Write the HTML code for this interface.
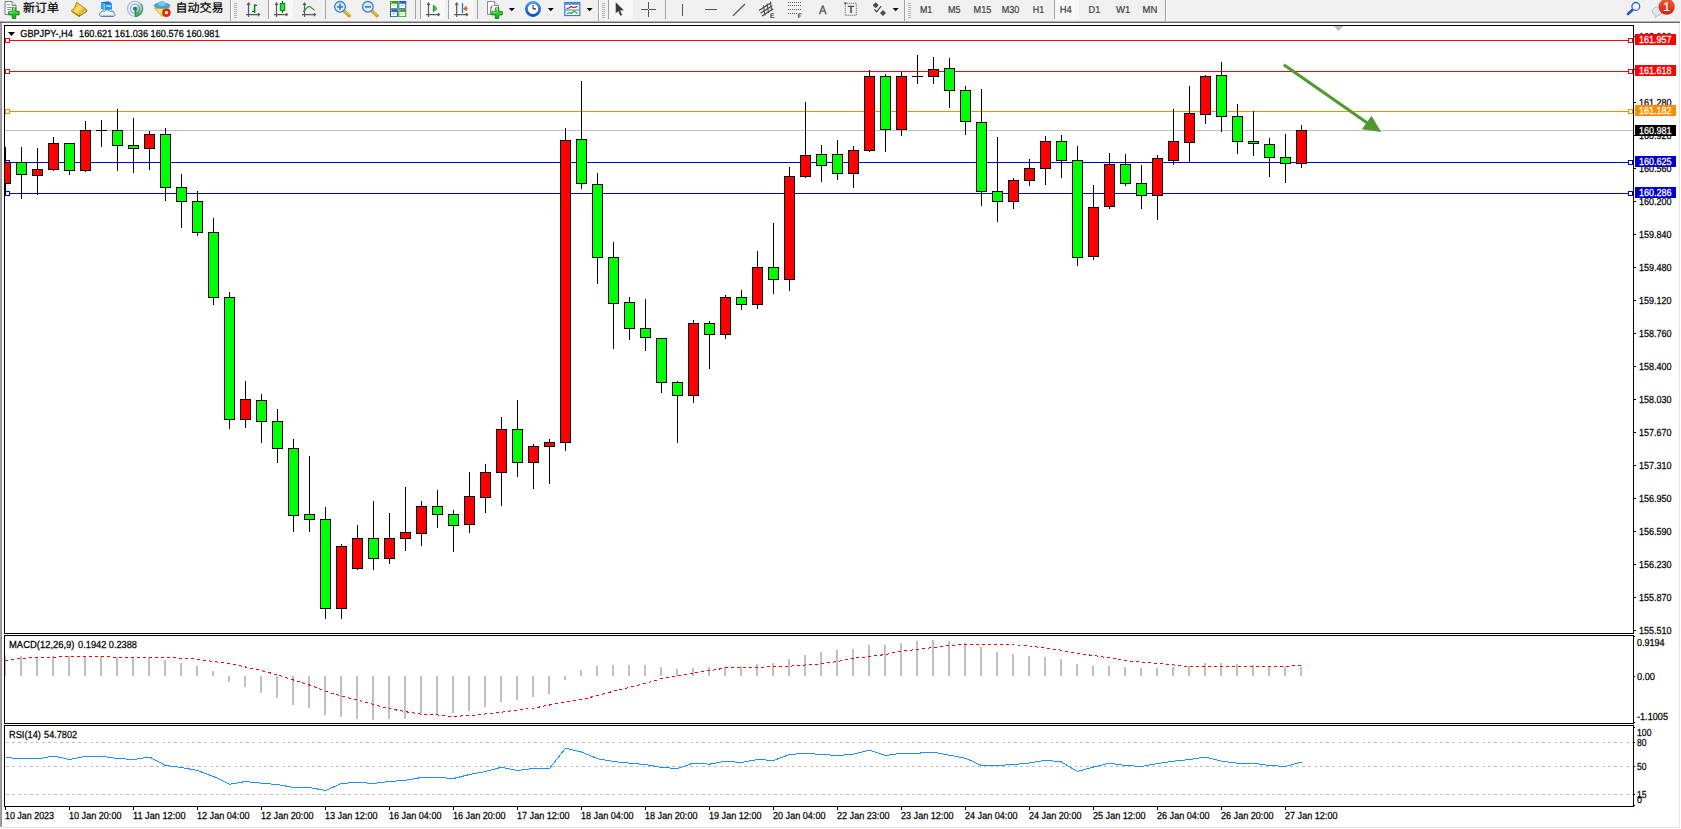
<!DOCTYPE html>
<html><head><meta charset="utf-8"><title>GBPJPY-,H4</title>
<style>html,body{margin:0;padding:0;background:#fff;}body{width:1681px;height:829px;overflow:hidden;position:relative;font-family:"Liberation Sans","Noto Sans CJK SC",sans-serif;}</style>
</head><body>
<svg width="1681" height="829" viewBox="0 0 1681 829" style="position:absolute;left:0;top:0;text-rendering:geometricPrecision" font-family="'Liberation Sans', sans-serif">
<g shape-rendering="crispEdges">
<rect x="0" y="0" width="1681" height="829" fill="#ffffff" />
<rect x="0" y="0" width="1681" height="20" fill="#f0f0f0" />
<rect x="0" y="20" width="1681" height="1" fill="#f5f5f5" />
<rect x="0" y="21" width="1680" height="1" fill="#b2b2b2" />
<rect x="0" y="22" width="1680" height="1" fill="#686868" />
<rect x="0" y="23" width="2" height="804" fill="#a0a0a0" />
<rect x="1" y="23" width="1" height="804" fill="#929292" />
<rect x="1679" y="23" width="1" height="805" fill="#e3e3e3" />
<rect x="2" y="827" width="1678" height="1" fill="#e3e3e3" />
<rect x="5" y="40" width="1628" height="1" fill="#ff0000" />
<rect x="5" y="71" width="1628" height="1" fill="#ff0000" />
<rect x="5" y="111" width="1628" height="1" fill="#ff8c00" />
<rect x="5" y="130" width="1628" height="1" fill="#c0c0c0" />
<rect x="5" y="162" width="1628" height="1" fill="#0000cd" />
<rect x="5" y="193" width="1628" height="1" fill="#0000cd" />
<rect x="5" y="38" width="5" height="5" fill="#ff0000" />
<rect x="6" y="39" width="3" height="3" fill="#fff" />
<rect x="1628" y="38" width="5" height="5" fill="#ff0000" />
<rect x="1629" y="39" width="3" height="3" fill="#fff" />
<rect x="5" y="69" width="5" height="5" fill="#ff0000" />
<rect x="6" y="70" width="3" height="3" fill="#fff" />
<rect x="1628" y="69" width="5" height="5" fill="#ff0000" />
<rect x="1629" y="70" width="3" height="3" fill="#fff" />
<rect x="5" y="109" width="5" height="5" fill="#ff8c00" />
<rect x="6" y="110" width="3" height="3" fill="#fff" />
<rect x="1628" y="109" width="5" height="5" fill="#ff8c00" />
<rect x="1629" y="110" width="3" height="3" fill="#fff" />
<rect x="5" y="160" width="5" height="5" fill="#0000cd" />
<rect x="6" y="161" width="3" height="3" fill="#fff" />
<rect x="1628" y="160" width="5" height="5" fill="#0000cd" />
<rect x="1629" y="161" width="3" height="3" fill="#fff" />
<rect x="5" y="191" width="5" height="5" fill="#0000cd" />
<rect x="6" y="192" width="3" height="3" fill="#fff" />
<rect x="1628" y="191" width="5" height="5" fill="#0000cd" />
<rect x="1629" y="192" width="3" height="3" fill="#fff" />
<g clip-path="url(#cp)">
<rect x="5" y="147" width="1" height="48" fill="#000" />
<rect x="0" y="162" width="11" height="22" fill="#000" />
<rect x="1" y="163" width="9" height="20" fill="#ff0000" />
<rect x="21" y="147" width="1" height="52" fill="#000" />
<rect x="16" y="162" width="11" height="13" fill="#000" />
<rect x="17" y="163" width="9" height="11" fill="#00ff00" />
<rect x="37" y="148" width="1" height="47" fill="#000" />
<rect x="32" y="169" width="11" height="7" fill="#000" />
<rect x="33" y="170" width="9" height="5" fill="#ff0000" />
<rect x="53" y="137" width="1" height="34" fill="#000" />
<rect x="48" y="143" width="11" height="27" fill="#000" />
<rect x="49" y="144" width="9" height="25" fill="#ff0000" />
<rect x="69" y="143" width="1" height="32" fill="#000" />
<rect x="64" y="143" width="11" height="28" fill="#000" />
<rect x="65" y="144" width="9" height="26" fill="#00ff00" />
<rect x="85" y="121" width="1" height="51" fill="#000" />
<rect x="80" y="130" width="11" height="41" fill="#000" />
<rect x="81" y="131" width="9" height="39" fill="#ff0000" />
<rect x="101" y="120" width="1" height="27" fill="#000" />
<rect x="96" y="130" width="11" height="1" fill="#000" />
<rect x="117" y="109" width="1" height="62" fill="#000" />
<rect x="112" y="130" width="11" height="16" fill="#000" />
<rect x="113" y="131" width="9" height="14" fill="#00ff00" />
<rect x="133" y="118" width="1" height="55" fill="#000" />
<rect x="128" y="145" width="11" height="4" fill="#000" />
<rect x="129" y="146" width="9" height="2" fill="#00ff00" />
<rect x="149" y="131" width="1" height="39" fill="#000" />
<rect x="144" y="134" width="11" height="15" fill="#000" />
<rect x="145" y="135" width="9" height="13" fill="#ff0000" />
<rect x="165" y="128" width="1" height="73" fill="#000" />
<rect x="160" y="134" width="11" height="54" fill="#000" />
<rect x="161" y="135" width="9" height="52" fill="#00ff00" />
<rect x="181" y="174" width="1" height="54" fill="#000" />
<rect x="176" y="187" width="11" height="15" fill="#000" />
<rect x="177" y="188" width="9" height="13" fill="#00ff00" />
<rect x="197" y="191" width="1" height="45" fill="#000" />
<rect x="192" y="201" width="11" height="32" fill="#000" />
<rect x="193" y="202" width="9" height="30" fill="#00ff00" />
<rect x="213" y="218" width="1" height="87" fill="#000" />
<rect x="208" y="232" width="11" height="66" fill="#000" />
<rect x="209" y="233" width="9" height="64" fill="#00ff00" />
<rect x="229" y="292" width="1" height="137" fill="#000" />
<rect x="224" y="297" width="11" height="123" fill="#000" />
<rect x="225" y="298" width="9" height="121" fill="#00ff00" />
<rect x="245" y="381" width="1" height="47" fill="#000" />
<rect x="240" y="399" width="11" height="21" fill="#000" />
<rect x="241" y="400" width="9" height="19" fill="#ff0000" />
<rect x="261" y="394" width="1" height="49" fill="#000" />
<rect x="256" y="400" width="11" height="22" fill="#000" />
<rect x="257" y="401" width="9" height="20" fill="#00ff00" />
<rect x="277" y="409" width="1" height="54" fill="#000" />
<rect x="272" y="421" width="11" height="28" fill="#000" />
<rect x="273" y="422" width="9" height="26" fill="#00ff00" />
<rect x="293" y="439" width="1" height="93" fill="#000" />
<rect x="288" y="448" width="11" height="68" fill="#000" />
<rect x="289" y="449" width="9" height="66" fill="#00ff00" />
<rect x="309" y="456" width="1" height="76" fill="#000" />
<rect x="304" y="514" width="11" height="6" fill="#000" />
<rect x="305" y="515" width="9" height="4" fill="#00ff00" />
<rect x="325" y="507" width="1" height="112" fill="#000" />
<rect x="320" y="519" width="11" height="90" fill="#000" />
<rect x="321" y="520" width="9" height="88" fill="#00ff00" />
<rect x="341" y="544" width="1" height="75" fill="#000" />
<rect x="336" y="546" width="11" height="63" fill="#000" />
<rect x="337" y="547" width="9" height="61" fill="#ff0000" />
<rect x="357" y="525" width="1" height="45" fill="#000" />
<rect x="352" y="538" width="11" height="31" fill="#000" />
<rect x="353" y="539" width="9" height="29" fill="#ff0000" />
<rect x="373" y="501" width="1" height="69" fill="#000" />
<rect x="368" y="538" width="11" height="21" fill="#000" />
<rect x="369" y="539" width="9" height="19" fill="#00ff00" />
<rect x="389" y="513" width="1" height="51" fill="#000" />
<rect x="384" y="538" width="11" height="21" fill="#000" />
<rect x="385" y="539" width="9" height="19" fill="#ff0000" />
<rect x="405" y="487" width="1" height="64" fill="#000" />
<rect x="400" y="532" width="11" height="7" fill="#000" />
<rect x="401" y="533" width="9" height="5" fill="#ff0000" />
<rect x="421" y="501" width="1" height="45" fill="#000" />
<rect x="416" y="506" width="11" height="28" fill="#000" />
<rect x="417" y="507" width="9" height="26" fill="#ff0000" />
<rect x="437" y="490" width="1" height="38" fill="#000" />
<rect x="432" y="506" width="11" height="9" fill="#000" />
<rect x="433" y="507" width="9" height="7" fill="#00ff00" />
<rect x="453" y="510" width="1" height="42" fill="#000" />
<rect x="448" y="514" width="11" height="12" fill="#000" />
<rect x="449" y="515" width="9" height="10" fill="#00ff00" />
<rect x="469" y="472" width="1" height="61" fill="#000" />
<rect x="464" y="496" width="11" height="29" fill="#000" />
<rect x="465" y="497" width="9" height="27" fill="#ff0000" />
<rect x="485" y="464" width="1" height="49" fill="#000" />
<rect x="480" y="472" width="11" height="26" fill="#000" />
<rect x="481" y="473" width="9" height="24" fill="#ff0000" />
<rect x="501" y="417" width="1" height="89" fill="#000" />
<rect x="496" y="429" width="11" height="44" fill="#000" />
<rect x="497" y="430" width="9" height="42" fill="#ff0000" />
<rect x="517" y="400" width="1" height="77" fill="#000" />
<rect x="512" y="429" width="11" height="34" fill="#000" />
<rect x="513" y="430" width="9" height="32" fill="#00ff00" />
<rect x="533" y="444" width="1" height="45" fill="#000" />
<rect x="528" y="446" width="11" height="17" fill="#000" />
<rect x="529" y="447" width="9" height="15" fill="#ff0000" />
<rect x="549" y="439" width="1" height="45" fill="#000" />
<rect x="544" y="442" width="11" height="5" fill="#000" />
<rect x="545" y="443" width="9" height="3" fill="#ff0000" />
<rect x="565" y="128" width="1" height="323" fill="#000" />
<rect x="560" y="140" width="11" height="303" fill="#000" />
<rect x="561" y="141" width="9" height="301" fill="#ff0000" />
<rect x="581" y="81" width="1" height="108" fill="#000" />
<rect x="576" y="139" width="11" height="45" fill="#000" />
<rect x="577" y="140" width="9" height="43" fill="#00ff00" />
<rect x="597" y="173" width="1" height="111" fill="#000" />
<rect x="592" y="184" width="11" height="74" fill="#000" />
<rect x="593" y="185" width="9" height="72" fill="#00ff00" />
<rect x="613" y="242" width="1" height="107" fill="#000" />
<rect x="608" y="257" width="11" height="47" fill="#000" />
<rect x="609" y="258" width="9" height="45" fill="#00ff00" />
<rect x="629" y="297" width="1" height="43" fill="#000" />
<rect x="624" y="302" width="11" height="27" fill="#000" />
<rect x="625" y="303" width="9" height="25" fill="#00ff00" />
<rect x="645" y="299" width="1" height="52" fill="#000" />
<rect x="640" y="328" width="11" height="10" fill="#000" />
<rect x="641" y="329" width="9" height="8" fill="#00ff00" />
<rect x="661" y="338" width="1" height="55" fill="#000" />
<rect x="656" y="338" width="11" height="45" fill="#000" />
<rect x="657" y="339" width="9" height="43" fill="#00ff00" />
<rect x="677" y="381" width="1" height="62" fill="#000" />
<rect x="672" y="382" width="11" height="14" fill="#000" />
<rect x="673" y="383" width="9" height="12" fill="#00ff00" />
<rect x="693" y="320" width="1" height="83" fill="#000" />
<rect x="688" y="323" width="11" height="73" fill="#000" />
<rect x="689" y="324" width="9" height="71" fill="#ff0000" />
<rect x="709" y="321" width="1" height="48" fill="#000" />
<rect x="704" y="323" width="11" height="12" fill="#000" />
<rect x="705" y="324" width="9" height="10" fill="#00ff00" />
<rect x="725" y="295" width="1" height="44" fill="#000" />
<rect x="720" y="297" width="11" height="38" fill="#000" />
<rect x="721" y="298" width="9" height="36" fill="#ff0000" />
<rect x="741" y="290" width="1" height="20" fill="#000" />
<rect x="736" y="297" width="11" height="8" fill="#000" />
<rect x="737" y="298" width="9" height="6" fill="#00ff00" />
<rect x="757" y="251" width="1" height="58" fill="#000" />
<rect x="752" y="267" width="11" height="38" fill="#000" />
<rect x="753" y="268" width="9" height="36" fill="#ff0000" />
<rect x="773" y="223" width="1" height="71" fill="#000" />
<rect x="768" y="267" width="11" height="13" fill="#000" />
<rect x="769" y="268" width="9" height="11" fill="#00ff00" />
<rect x="789" y="167" width="1" height="124" fill="#000" />
<rect x="784" y="176" width="11" height="104" fill="#000" />
<rect x="785" y="177" width="9" height="102" fill="#ff0000" />
<rect x="805" y="102" width="1" height="76" fill="#000" />
<rect x="800" y="155" width="11" height="22" fill="#000" />
<rect x="801" y="156" width="9" height="20" fill="#ff0000" />
<rect x="821" y="145" width="1" height="37" fill="#000" />
<rect x="816" y="154" width="11" height="12" fill="#000" />
<rect x="817" y="155" width="9" height="10" fill="#00ff00" />
<rect x="837" y="140" width="1" height="40" fill="#000" />
<rect x="832" y="154" width="11" height="20" fill="#000" />
<rect x="833" y="155" width="9" height="18" fill="#00ff00" />
<rect x="853" y="146" width="1" height="42" fill="#000" />
<rect x="848" y="150" width="11" height="24" fill="#000" />
<rect x="849" y="151" width="9" height="22" fill="#ff0000" />
<rect x="869" y="70" width="1" height="82" fill="#000" />
<rect x="864" y="76" width="11" height="75" fill="#000" />
<rect x="865" y="77" width="9" height="73" fill="#ff0000" />
<rect x="885" y="74" width="1" height="78" fill="#000" />
<rect x="880" y="76" width="11" height="54" fill="#000" />
<rect x="881" y="77" width="9" height="52" fill="#00ff00" />
<rect x="901" y="72" width="1" height="64" fill="#000" />
<rect x="896" y="76" width="11" height="54" fill="#000" />
<rect x="897" y="77" width="9" height="52" fill="#ff0000" />
<rect x="917" y="55" width="1" height="29" fill="#000" />
<rect x="912" y="76" width="11" height="1" fill="#000" />
<rect x="933" y="57" width="1" height="27" fill="#000" />
<rect x="928" y="69" width="11" height="8" fill="#000" />
<rect x="929" y="70" width="9" height="6" fill="#ff0000" />
<rect x="949" y="58" width="1" height="50" fill="#000" />
<rect x="944" y="68" width="11" height="23" fill="#000" />
<rect x="945" y="69" width="9" height="21" fill="#00ff00" />
<rect x="965" y="86" width="1" height="49" fill="#000" />
<rect x="960" y="90" width="11" height="32" fill="#000" />
<rect x="961" y="91" width="9" height="30" fill="#00ff00" />
<rect x="981" y="89" width="1" height="117" fill="#000" />
<rect x="976" y="122" width="11" height="70" fill="#000" />
<rect x="977" y="123" width="9" height="68" fill="#00ff00" />
<rect x="997" y="137" width="1" height="85" fill="#000" />
<rect x="992" y="191" width="11" height="11" fill="#000" />
<rect x="993" y="192" width="9" height="9" fill="#00ff00" />
<rect x="1013" y="178" width="1" height="31" fill="#000" />
<rect x="1008" y="180" width="11" height="22" fill="#000" />
<rect x="1009" y="181" width="9" height="20" fill="#ff0000" />
<rect x="1029" y="159" width="1" height="27" fill="#000" />
<rect x="1024" y="168" width="11" height="13" fill="#000" />
<rect x="1025" y="169" width="9" height="11" fill="#ff0000" />
<rect x="1045" y="136" width="1" height="49" fill="#000" />
<rect x="1040" y="141" width="11" height="28" fill="#000" />
<rect x="1041" y="142" width="9" height="26" fill="#ff0000" />
<rect x="1061" y="135" width="1" height="43" fill="#000" />
<rect x="1056" y="141" width="11" height="20" fill="#000" />
<rect x="1057" y="142" width="9" height="18" fill="#00ff00" />
<rect x="1077" y="146" width="1" height="120" fill="#000" />
<rect x="1072" y="160" width="11" height="98" fill="#000" />
<rect x="1073" y="161" width="9" height="96" fill="#00ff00" />
<rect x="1093" y="185" width="1" height="75" fill="#000" />
<rect x="1088" y="207" width="11" height="50" fill="#000" />
<rect x="1089" y="208" width="9" height="48" fill="#ff0000" />
<rect x="1109" y="153" width="1" height="56" fill="#000" />
<rect x="1104" y="164" width="11" height="43" fill="#000" />
<rect x="1105" y="165" width="9" height="41" fill="#ff0000" />
<rect x="1125" y="154" width="1" height="32" fill="#000" />
<rect x="1120" y="164" width="11" height="20" fill="#000" />
<rect x="1121" y="165" width="9" height="18" fill="#00ff00" />
<rect x="1141" y="165" width="1" height="44" fill="#000" />
<rect x="1136" y="183" width="11" height="13" fill="#000" />
<rect x="1137" y="184" width="9" height="11" fill="#00ff00" />
<rect x="1157" y="155" width="1" height="65" fill="#000" />
<rect x="1152" y="158" width="11" height="38" fill="#000" />
<rect x="1153" y="159" width="9" height="36" fill="#ff0000" />
<rect x="1173" y="109" width="1" height="56" fill="#000" />
<rect x="1168" y="141" width="11" height="20" fill="#000" />
<rect x="1169" y="142" width="9" height="18" fill="#ff0000" />
<rect x="1189" y="86" width="1" height="77" fill="#000" />
<rect x="1184" y="113" width="11" height="30" fill="#000" />
<rect x="1185" y="114" width="9" height="28" fill="#ff0000" />
<rect x="1205" y="75" width="1" height="49" fill="#000" />
<rect x="1200" y="76" width="11" height="39" fill="#000" />
<rect x="1201" y="77" width="9" height="37" fill="#ff0000" />
<rect x="1221" y="62" width="1" height="70" fill="#000" />
<rect x="1216" y="75" width="11" height="42" fill="#000" />
<rect x="1217" y="76" width="9" height="40" fill="#00ff00" />
<rect x="1237" y="104" width="1" height="50" fill="#000" />
<rect x="1232" y="116" width="11" height="26" fill="#000" />
<rect x="1233" y="117" width="9" height="24" fill="#00ff00" />
<rect x="1253" y="111" width="1" height="45" fill="#000" />
<rect x="1248" y="141" width="11" height="3" fill="#000" />
<rect x="1249" y="142" width="9" height="1" fill="#00ff00" />
<rect x="1269" y="138" width="1" height="39" fill="#000" />
<rect x="1264" y="144" width="11" height="14" fill="#000" />
<rect x="1265" y="145" width="9" height="12" fill="#00ff00" />
<rect x="1285" y="134" width="1" height="49" fill="#000" />
<rect x="1280" y="157" width="11" height="7" fill="#000" />
<rect x="1281" y="158" width="9" height="5" fill="#00ff00" />
<rect x="1301" y="125" width="1" height="43" fill="#000" />
<rect x="1296" y="130" width="11" height="34" fill="#000" />
<rect x="1297" y="131" width="9" height="32" fill="#ff0000" />
</g>
<rect x="4" y="25" width="1630" height="1" fill="#000" />
<rect x="4" y="633" width="1630" height="1" fill="#000" />
<rect x="4" y="25" width="1" height="609" fill="#000" />
<rect x="1633" y="25" width="1" height="609" fill="#000" />
<rect x="4" y="635" width="1630" height="1" fill="#000" />
<rect x="4" y="723" width="1630" height="1" fill="#000" />
<rect x="4" y="635" width="1" height="89" fill="#000" />
<rect x="1633" y="635" width="1" height="89" fill="#000" />
<rect x="4" y="725" width="1630" height="1" fill="#000" />
<rect x="4" y="806" width="1630" height="1" fill="#000" />
<rect x="4" y="725" width="1" height="82" fill="#000" />
<rect x="1633" y="725" width="1" height="82" fill="#000" />
<rect x="5" y="655" width="1" height="21" fill="#c0c0c0" />
<rect x="20" y="656" width="2" height="20" fill="#c0c0c0" />
<rect x="36" y="657" width="2" height="19" fill="#c0c0c0" />
<rect x="52" y="656" width="2" height="20" fill="#c0c0c0" />
<rect x="68" y="656" width="2" height="20" fill="#c0c0c0" />
<rect x="84" y="656" width="2" height="20" fill="#c0c0c0" />
<rect x="100" y="656" width="2" height="20" fill="#c0c0c0" />
<rect x="116" y="657" width="2" height="19" fill="#c0c0c0" />
<rect x="132" y="657" width="2" height="19" fill="#c0c0c0" />
<rect x="148" y="657" width="2" height="19" fill="#c0c0c0" />
<rect x="164" y="660" width="2" height="16" fill="#c0c0c0" />
<rect x="180" y="663" width="2" height="13" fill="#c0c0c0" />
<rect x="196" y="666" width="2" height="10" fill="#c0c0c0" />
<rect x="212" y="671" width="2" height="5" fill="#c0c0c0" />
<rect x="228" y="676" width="2" height="6" fill="#c0c0c0" />
<rect x="244" y="676" width="2" height="11" fill="#c0c0c0" />
<rect x="260" y="676" width="2" height="17" fill="#c0c0c0" />
<rect x="276" y="676" width="2" height="22" fill="#c0c0c0" />
<rect x="292" y="676" width="2" height="29" fill="#c0c0c0" />
<rect x="308" y="676" width="2" height="32" fill="#c0c0c0" />
<rect x="324" y="676" width="2" height="39" fill="#c0c0c0" />
<rect x="340" y="676" width="2" height="41" fill="#c0c0c0" />
<rect x="356" y="676" width="2" height="43" fill="#c0c0c0" />
<rect x="372" y="676" width="2" height="44" fill="#c0c0c0" />
<rect x="388" y="676" width="2" height="43" fill="#c0c0c0" />
<rect x="404" y="676" width="2" height="43" fill="#c0c0c0" />
<rect x="420" y="676" width="2" height="39" fill="#c0c0c0" />
<rect x="436" y="676" width="2" height="38" fill="#c0c0c0" />
<rect x="452" y="676" width="2" height="37" fill="#c0c0c0" />
<rect x="468" y="676" width="2" height="35" fill="#c0c0c0" />
<rect x="484" y="676" width="2" height="31" fill="#c0c0c0" />
<rect x="500" y="676" width="2" height="26" fill="#c0c0c0" />
<rect x="516" y="676" width="2" height="24" fill="#c0c0c0" />
<rect x="532" y="676" width="2" height="21" fill="#c0c0c0" />
<rect x="548" y="676" width="2" height="18" fill="#c0c0c0" />
<rect x="564" y="676" width="2" height="4" fill="#c0c0c0" />
<rect x="580" y="670" width="2" height="6" fill="#c0c0c0" />
<rect x="596" y="666" width="2" height="10" fill="#c0c0c0" />
<rect x="612" y="665" width="2" height="11" fill="#c0c0c0" />
<rect x="628" y="665" width="2" height="11" fill="#c0c0c0" />
<rect x="644" y="665" width="2" height="11" fill="#c0c0c0" />
<rect x="660" y="667" width="2" height="9" fill="#c0c0c0" />
<rect x="676" y="669" width="2" height="7" fill="#c0c0c0" />
<rect x="692" y="668" width="2" height="8" fill="#c0c0c0" />
<rect x="708" y="667" width="2" height="9" fill="#c0c0c0" />
<rect x="724" y="667" width="2" height="9" fill="#c0c0c0" />
<rect x="740" y="666" width="2" height="10" fill="#c0c0c0" />
<rect x="756" y="664" width="2" height="12" fill="#c0c0c0" />
<rect x="772" y="663" width="2" height="13" fill="#c0c0c0" />
<rect x="788" y="659" width="2" height="17" fill="#c0c0c0" />
<rect x="804" y="655" width="2" height="21" fill="#c0c0c0" />
<rect x="820" y="652" width="2" height="24" fill="#c0c0c0" />
<rect x="836" y="650" width="2" height="26" fill="#c0c0c0" />
<rect x="852" y="649" width="2" height="27" fill="#c0c0c0" />
<rect x="868" y="645" width="2" height="31" fill="#c0c0c0" />
<rect x="884" y="645" width="2" height="31" fill="#c0c0c0" />
<rect x="900" y="643" width="2" height="33" fill="#c0c0c0" />
<rect x="916" y="641" width="2" height="35" fill="#c0c0c0" />
<rect x="932" y="640" width="2" height="36" fill="#c0c0c0" />
<rect x="948" y="641" width="2" height="35" fill="#c0c0c0" />
<rect x="964" y="643" width="2" height="33" fill="#c0c0c0" />
<rect x="980" y="647" width="2" height="29" fill="#c0c0c0" />
<rect x="996" y="652" width="2" height="24" fill="#c0c0c0" />
<rect x="1012" y="654" width="2" height="22" fill="#c0c0c0" />
<rect x="1028" y="656" width="2" height="20" fill="#c0c0c0" />
<rect x="1044" y="657" width="2" height="19" fill="#c0c0c0" />
<rect x="1060" y="659" width="2" height="17" fill="#c0c0c0" />
<rect x="1076" y="664" width="2" height="12" fill="#c0c0c0" />
<rect x="1092" y="666" width="2" height="10" fill="#c0c0c0" />
<rect x="1108" y="666" width="2" height="10" fill="#c0c0c0" />
<rect x="1124" y="667" width="2" height="9" fill="#c0c0c0" />
<rect x="1140" y="668" width="2" height="8" fill="#c0c0c0" />
<rect x="1156" y="668" width="2" height="8" fill="#c0c0c0" />
<rect x="1172" y="667" width="2" height="9" fill="#c0c0c0" />
<rect x="1188" y="666" width="2" height="10" fill="#c0c0c0" />
<rect x="1204" y="663" width="2" height="13" fill="#c0c0c0" />
<rect x="1220" y="663" width="2" height="13" fill="#c0c0c0" />
<rect x="1236" y="664" width="2" height="12" fill="#c0c0c0" />
<rect x="1252" y="665" width="2" height="11" fill="#c0c0c0" />
<rect x="1268" y="667" width="2" height="9" fill="#c0c0c0" />
<rect x="1284" y="667" width="2" height="9" fill="#c0c0c0" />
<rect x="1300" y="667" width="2" height="9" fill="#c0c0c0" />
<line x1="6" x2="1633" y1="742.5" y2="742.5" stroke="#c0c0c0" stroke-width="1" stroke-dasharray="3 3"/>
<line x1="6" x2="1633" y1="766.5" y2="766.5" stroke="#c0c0c0" stroke-width="1" stroke-dasharray="3 3"/>
<line x1="6" x2="1633" y1="794.5" y2="794.5" stroke="#c0c0c0" stroke-width="1" stroke-dasharray="3 3"/>
<rect x="1634" y="36" width="2" height="1" fill="#000" />
<rect x="1634" y="69" width="2" height="1" fill="#000" />
<rect x="1634" y="102" width="2" height="1" fill="#000" />
<rect x="1634" y="135" width="2" height="1" fill="#000" />
<rect x="1634" y="168" width="2" height="1" fill="#000" />
<rect x="1634" y="201" width="2" height="1" fill="#000" />
<rect x="1634" y="234" width="2" height="1" fill="#000" />
<rect x="1634" y="267" width="2" height="1" fill="#000" />
<rect x="1634" y="300" width="2" height="1" fill="#000" />
<rect x="1634" y="333" width="2" height="1" fill="#000" />
<rect x="1634" y="366" width="2" height="1" fill="#000" />
<rect x="1634" y="399" width="2" height="1" fill="#000" />
<rect x="1634" y="432" width="2" height="1" fill="#000" />
<rect x="1634" y="465" width="2" height="1" fill="#000" />
<rect x="1634" y="498" width="2" height="1" fill="#000" />
<rect x="1634" y="531" width="2" height="1" fill="#000" />
<rect x="1634" y="564" width="2" height="1" fill="#000" />
<rect x="1634" y="597" width="2" height="1" fill="#000" />
<rect x="1634" y="630" width="2" height="1" fill="#000" />
<rect x="1634" y="636" width="1" height="1" fill="#000" />
<rect x="1634" y="676" width="1" height="1" fill="#000" />
<rect x="1634" y="722" width="1" height="1" fill="#000" />
<rect x="1634" y="727" width="1" height="1" fill="#000" />
<rect x="1634" y="742" width="1" height="1" fill="#000" />
<rect x="1634" y="766" width="1" height="1" fill="#000" />
<rect x="1634" y="794" width="1" height="1" fill="#000" />
<rect x="1634" y="805" width="1" height="1" fill="#000" />
<rect x="5" y="807" width="1" height="3" fill="#000" />
<rect x="69" y="807" width="1" height="3" fill="#000" />
<rect x="133" y="807" width="1" height="3" fill="#000" />
<rect x="197" y="807" width="1" height="3" fill="#000" />
<rect x="261" y="807" width="1" height="3" fill="#000" />
<rect x="325" y="807" width="1" height="3" fill="#000" />
<rect x="389" y="807" width="1" height="3" fill="#000" />
<rect x="453" y="807" width="1" height="3" fill="#000" />
<rect x="517" y="807" width="1" height="3" fill="#000" />
<rect x="581" y="807" width="1" height="3" fill="#000" />
<rect x="645" y="807" width="1" height="3" fill="#000" />
<rect x="709" y="807" width="1" height="3" fill="#000" />
<rect x="773" y="807" width="1" height="3" fill="#000" />
<rect x="837" y="807" width="1" height="3" fill="#000" />
<rect x="901" y="807" width="1" height="3" fill="#000" />
<rect x="965" y="807" width="1" height="3" fill="#000" />
<rect x="1029" y="807" width="1" height="3" fill="#000" />
<rect x="1093" y="807" width="1" height="3" fill="#000" />
<rect x="1157" y="807" width="1" height="3" fill="#000" />
<rect x="1221" y="807" width="1" height="3" fill="#000" />
<rect x="1285" y="807" width="1" height="3" fill="#000" />
<rect x="1334" y="26" width="9" height="1" fill="#c0c0c0" />
<rect x="1335" y="27" width="7" height="1" fill="#c0c0c0" />
<rect x="1336" y="28" width="5" height="1" fill="#c0c0c0" />
<rect x="1337" y="29" width="3" height="1" fill="#c0c0c0" />
<rect x="1338" y="30" width="1" height="1" fill="#c0c0c0" />
</g>
<defs><clipPath id="cp"><rect x="5" y="26" width="1628" height="607"/></clipPath></defs>
<polyline points="5.5,660.7 21.5,658.2 37.5,657.7 53.5,657.2 69.5,656.5 85.5,656.5 101.5,656.5 117.5,657.2 133.5,657.5 149.5,657.5 165.5,657.5 181.5,658.2 197.5,659.2 213.5,661.5 229.5,663.7 245.5,667 261.5,670.5 277.5,675 293.5,680 309.5,685 325.5,691.2 341.5,696.2 357.5,700 373.5,704.5 389.5,708.7 405.5,711.7 421.5,714.2 437.5,715 453.5,716.5 469.5,715.5 485.5,714 501.5,712.2 517.5,710 533.5,708.2 549.5,705 565.5,702 581.5,699.5 597.5,695.5 613.5,691.2 629.5,687.5 645.5,683.2 661.5,678.7 677.5,675.7 693.5,673 709.5,670.7 725.5,668 741.5,667.5 757.5,667.5 773.5,666.7 789.5,666.2 805.5,665 821.5,663.7 837.5,661.5 853.5,658.2 869.5,656.5 885.5,654.5 901.5,651 917.5,649.5 933.5,647.5 949.5,645.5 965.5,644.2 981.5,644.2 997.5,644.2 1013.5,645 1029.5,646 1045.5,648.2 1061.5,650.2 1077.5,653.5 1093.5,655.5 1109.5,658 1125.5,660.5 1141.5,662.2 1157.5,663.5 1173.5,665 1189.5,666.5 1205.5,666.5 1221.5,666.5 1237.5,666.5 1253.5,666.5 1269.5,666.5 1285.5,666.5 1301.5,665" fill="none" stroke="#ff0000" stroke-width="1" stroke-dasharray="3 3" stroke-linejoin="bevel" shape-rendering="crispEdges"/>
<polyline points="5.5,757 14.5,758.5 40.5,758.5 53.5,756 69.5,759.5 85.5,756.2 101.5,756.2 117.5,758.5 133.5,759.5 149.5,757 165.5,765.5 181.5,767.5 197.5,770.5 213.5,776.5 229.5,784.2 245.5,781.5 261.5,783.2 277.5,784.5 293.5,787.5 309.5,787.5 325.5,790.5 341.5,783.5 357.5,782.2 373.5,783.5 389.5,781.5 405.5,780.2 421.5,777.5 437.5,777.5 453.5,778.5 469.5,774.5 485.5,771.5 501.5,767.2 517.5,770.5 533.5,768.5 549.5,768.5 565.5,748.2 581.5,752 597.5,758.7 613.5,761.5 629.5,763.2 645.5,764.5 661.5,767.5 677.5,768.5 693.5,763 709.5,764.2 725.5,761.2 741.5,762.5 757.5,759.5 773.5,760.5 789.5,754.5 805.5,753.2 821.5,754.5 837.5,755.5 853.5,754.2 869.5,750.2 885.5,755.5 901.5,753.2 917.5,753.2 933.5,752.2 949.5,755.2 965.5,758.2 981.5,765.5 997.5,765.5 1013.5,764.5 1029.5,763 1045.5,760.2 1061.5,762 1077.5,771.5 1093.5,767 1109.5,763.2 1125.5,765.5 1141.5,766.5 1157.5,763.5 1173.5,761.2 1189.5,759.5 1205.5,757 1221.5,761.2 1237.5,763.2 1253.5,763.2 1269.5,765.5 1285.5,766.5 1301.5,762" fill="none" stroke="#1e90ff" stroke-width="1" stroke-linejoin="bevel" shape-rendering="crispEdges"/>
<line x1="1283.8" y1="64.7" x2="1367" y2="122.7" stroke="#4e9a2e" stroke-width="3"/>
<polygon points="1381.2,131.9 1371.5,115.7 1361.8,129.3" fill="#4e9a2e"/>
<text x="1639" y="40" font-size="10.2" fill="#000" stroke="#000" stroke-width="0.25" textLength="32.5" lengthAdjust="spacingAndGlyphs" >162.000</text>
<text x="1639" y="73" font-size="10.2" fill="#000" stroke="#000" stroke-width="0.25" textLength="32.5" lengthAdjust="spacingAndGlyphs" >161.640</text>
<text x="1639" y="106" font-size="10.2" fill="#000" stroke="#000" stroke-width="0.25" textLength="32.5" lengthAdjust="spacingAndGlyphs" >161.280</text>
<text x="1639" y="139" font-size="10.2" fill="#000" stroke="#000" stroke-width="0.25" textLength="32.5" lengthAdjust="spacingAndGlyphs" >160.920</text>
<text x="1639" y="172" font-size="10.2" fill="#000" stroke="#000" stroke-width="0.25" textLength="32.5" lengthAdjust="spacingAndGlyphs" >160.560</text>
<text x="1639" y="205" font-size="10.2" fill="#000" stroke="#000" stroke-width="0.25" textLength="32.5" lengthAdjust="spacingAndGlyphs" >160.200</text>
<text x="1639" y="238" font-size="10.2" fill="#000" stroke="#000" stroke-width="0.25" textLength="32.5" lengthAdjust="spacingAndGlyphs" >159.840</text>
<text x="1639" y="271" font-size="10.2" fill="#000" stroke="#000" stroke-width="0.25" textLength="32.5" lengthAdjust="spacingAndGlyphs" >159.480</text>
<text x="1639" y="304" font-size="10.2" fill="#000" stroke="#000" stroke-width="0.25" textLength="32.5" lengthAdjust="spacingAndGlyphs" >159.120</text>
<text x="1639" y="337" font-size="10.2" fill="#000" stroke="#000" stroke-width="0.25" textLength="32.5" lengthAdjust="spacingAndGlyphs" >158.760</text>
<text x="1639" y="370" font-size="10.2" fill="#000" stroke="#000" stroke-width="0.25" textLength="32.5" lengthAdjust="spacingAndGlyphs" >158.400</text>
<text x="1639" y="403" font-size="10.2" fill="#000" stroke="#000" stroke-width="0.25" textLength="32.5" lengthAdjust="spacingAndGlyphs" >158.030</text>
<text x="1639" y="436" font-size="10.2" fill="#000" stroke="#000" stroke-width="0.25" textLength="32.5" lengthAdjust="spacingAndGlyphs" >157.670</text>
<text x="1639" y="469" font-size="10.2" fill="#000" stroke="#000" stroke-width="0.25" textLength="32.5" lengthAdjust="spacingAndGlyphs" >157.310</text>
<text x="1639" y="502" font-size="10.2" fill="#000" stroke="#000" stroke-width="0.25" textLength="32.5" lengthAdjust="spacingAndGlyphs" >156.950</text>
<text x="1639" y="535" font-size="10.2" fill="#000" stroke="#000" stroke-width="0.25" textLength="32.5" lengthAdjust="spacingAndGlyphs" >156.590</text>
<text x="1639" y="568" font-size="10.2" fill="#000" stroke="#000" stroke-width="0.25" textLength="32.5" lengthAdjust="spacingAndGlyphs" >156.230</text>
<text x="1639" y="601" font-size="10.2" fill="#000" stroke="#000" stroke-width="0.25" textLength="32.5" lengthAdjust="spacingAndGlyphs" >155.870</text>
<text x="1639" y="634" font-size="10.2" fill="#000" stroke="#000" stroke-width="0.25" textLength="32.5" lengthAdjust="spacingAndGlyphs" >155.510</text>
<g shape-rendering="crispEdges">
<rect x="1635" y="34" width="41" height="11" fill="#ff0000" />
<rect x="1635" y="65" width="41" height="11" fill="#ff0000" />
<rect x="1635" y="105" width="41" height="11" fill="#ff8c00" />
<rect x="1635" y="125" width="41" height="11" fill="#000" />
<rect x="1635" y="156" width="41" height="11" fill="#0000cd" />
<rect x="1635" y="187" width="41" height="11" fill="#0000cd" />
</g>
<text x="1639" y="43" font-size="10.2" fill="#fff" stroke="#fff" stroke-width="0.25" textLength="32.5" lengthAdjust="spacingAndGlyphs" >161.957</text>
<text x="1639" y="74" font-size="10.2" fill="#fff" stroke="#fff" stroke-width="0.25" textLength="32.5" lengthAdjust="spacingAndGlyphs" >161.618</text>
<text x="1639" y="114" font-size="10.2" fill="#fff" stroke="#fff" stroke-width="0.25" textLength="32.5" lengthAdjust="spacingAndGlyphs" >161.182</text>
<text x="1639" y="134" font-size="10.2" fill="#fff" stroke="#fff" stroke-width="0.25" textLength="32.5" lengthAdjust="spacingAndGlyphs" >160.981</text>
<text x="1639" y="165" font-size="10.2" fill="#fff" stroke="#fff" stroke-width="0.25" textLength="32.5" lengthAdjust="spacingAndGlyphs" >160.625</text>
<text x="1639" y="196" font-size="10.2" fill="#fff" stroke="#fff" stroke-width="0.25" textLength="32.5" lengthAdjust="spacingAndGlyphs" >160.286</text>
<text x="1637" y="646" font-size="10.2" fill="#000" stroke="#000" stroke-width="0.25" textLength="27.5" lengthAdjust="spacingAndGlyphs" >0.9194</text>
<text x="1637" y="680" font-size="10.2" fill="#000" stroke="#000" stroke-width="0.25" textLength="18" lengthAdjust="spacingAndGlyphs" >0.00</text>
<text x="1637" y="720" font-size="10.2" fill="#000" stroke="#000" stroke-width="0.25" textLength="31" lengthAdjust="spacingAndGlyphs" >-1.1005</text>
<text x="1637" y="736" font-size="10.2" fill="#000" stroke="#000" stroke-width="0.25" textLength="14.5" lengthAdjust="spacingAndGlyphs" >100</text>
<text x="1637" y="746" font-size="10.2" fill="#000" stroke="#000" stroke-width="0.25" textLength="9.5" lengthAdjust="spacingAndGlyphs" >80</text>
<text x="1637" y="770" font-size="10.2" fill="#000" stroke="#000" stroke-width="0.25" textLength="9.5" lengthAdjust="spacingAndGlyphs" >50</text>
<text x="1637" y="798" font-size="10.2" fill="#000" stroke="#000" stroke-width="0.25" textLength="9.5" lengthAdjust="spacingAndGlyphs" >15</text>
<text x="1637" y="803" font-size="10.2" fill="#000" stroke="#000" stroke-width="0.25" textLength="5" lengthAdjust="spacingAndGlyphs" >0</text>
<text x="5" y="819" font-size="10.2" fill="#000" stroke="#000" stroke-width="0.25" textLength="49" lengthAdjust="spacingAndGlyphs" >10 Jan 2023</text>
<text x="69" y="819" font-size="10.2" fill="#000" stroke="#000" stroke-width="0.25" textLength="52.5" lengthAdjust="spacingAndGlyphs" >10 Jan 20:00</text>
<text x="133" y="819" font-size="10.2" fill="#000" stroke="#000" stroke-width="0.25" textLength="52.5" lengthAdjust="spacingAndGlyphs" >11 Jan 12:00</text>
<text x="197" y="819" font-size="10.2" fill="#000" stroke="#000" stroke-width="0.25" textLength="52.5" lengthAdjust="spacingAndGlyphs" >12 Jan 04:00</text>
<text x="261" y="819" font-size="10.2" fill="#000" stroke="#000" stroke-width="0.25" textLength="52.5" lengthAdjust="spacingAndGlyphs" >12 Jan 20:00</text>
<text x="325" y="819" font-size="10.2" fill="#000" stroke="#000" stroke-width="0.25" textLength="52.5" lengthAdjust="spacingAndGlyphs" >13 Jan 12:00</text>
<text x="389" y="819" font-size="10.2" fill="#000" stroke="#000" stroke-width="0.25" textLength="52.5" lengthAdjust="spacingAndGlyphs" >16 Jan 04:00</text>
<text x="453" y="819" font-size="10.2" fill="#000" stroke="#000" stroke-width="0.25" textLength="52.5" lengthAdjust="spacingAndGlyphs" >16 Jan 20:00</text>
<text x="517" y="819" font-size="10.2" fill="#000" stroke="#000" stroke-width="0.25" textLength="52.5" lengthAdjust="spacingAndGlyphs" >17 Jan 12:00</text>
<text x="581" y="819" font-size="10.2" fill="#000" stroke="#000" stroke-width="0.25" textLength="52.5" lengthAdjust="spacingAndGlyphs" >18 Jan 04:00</text>
<text x="645" y="819" font-size="10.2" fill="#000" stroke="#000" stroke-width="0.25" textLength="52.5" lengthAdjust="spacingAndGlyphs" >18 Jan 20:00</text>
<text x="709" y="819" font-size="10.2" fill="#000" stroke="#000" stroke-width="0.25" textLength="52.5" lengthAdjust="spacingAndGlyphs" >19 Jan 12:00</text>
<text x="773" y="819" font-size="10.2" fill="#000" stroke="#000" stroke-width="0.25" textLength="52.5" lengthAdjust="spacingAndGlyphs" >20 Jan 04:00</text>
<text x="837" y="819" font-size="10.2" fill="#000" stroke="#000" stroke-width="0.25" textLength="52.5" lengthAdjust="spacingAndGlyphs" >22 Jan 23:00</text>
<text x="901" y="819" font-size="10.2" fill="#000" stroke="#000" stroke-width="0.25" textLength="52.5" lengthAdjust="spacingAndGlyphs" >23 Jan 12:00</text>
<text x="965" y="819" font-size="10.2" fill="#000" stroke="#000" stroke-width="0.25" textLength="52.5" lengthAdjust="spacingAndGlyphs" >24 Jan 04:00</text>
<text x="1029" y="819" font-size="10.2" fill="#000" stroke="#000" stroke-width="0.25" textLength="52.5" lengthAdjust="spacingAndGlyphs" >24 Jan 20:00</text>
<text x="1093" y="819" font-size="10.2" fill="#000" stroke="#000" stroke-width="0.25" textLength="52.5" lengthAdjust="spacingAndGlyphs" >25 Jan 12:00</text>
<text x="1157" y="819" font-size="10.2" fill="#000" stroke="#000" stroke-width="0.25" textLength="52.5" lengthAdjust="spacingAndGlyphs" >26 Jan 04:00</text>
<text x="1221" y="819" font-size="10.2" fill="#000" stroke="#000" stroke-width="0.25" textLength="52.5" lengthAdjust="spacingAndGlyphs" >26 Jan 20:00</text>
<text x="1285" y="819" font-size="10.2" fill="#000" stroke="#000" stroke-width="0.25" textLength="52.5" lengthAdjust="spacingAndGlyphs" >27 Jan 12:00</text>
<polygon points="8,32 15,32 11.5,36" fill="#000"/>
<text x="20.3" y="37" font-size="10.2" fill="#000" stroke="#000" stroke-width="0.25" textLength="52.5" lengthAdjust="spacingAndGlyphs" >GBPJPY-,H4</text>
<text x="79.1" y="37" font-size="10.2" fill="#000" stroke="#000" stroke-width="0.25" textLength="140.4" lengthAdjust="spacingAndGlyphs" >160.621 161.036 160.576 160.981</text>
<text x="9" y="648" font-size="10.2" fill="#000" stroke="#000" stroke-width="0.25" textLength="65.5" lengthAdjust="spacingAndGlyphs" >MACD(12,26,9)</text>
<text x="78.1" y="648" font-size="10.2" fill="#000" stroke="#000" stroke-width="0.25" textLength="58.9" lengthAdjust="spacingAndGlyphs" >0.1942 0.2388</text>
<text x="9" y="738" font-size="10.2" fill="#000" stroke="#000" stroke-width="0.25" textLength="31.9" lengthAdjust="spacingAndGlyphs" >RSI(14)</text>
<text x="44.1" y="738" font-size="10.2" fill="#000" stroke="#000" stroke-width="0.25" textLength="33" lengthAdjust="spacingAndGlyphs" >54.7802</text>
</svg>
<svg width="1681" height="24" viewBox="0 0 1681 24" style="position:absolute;left:0;top:0;text-rendering:geometricPrecision" font-family="'Liberation Sans','Noto Sans CJK SC',sans-serif">
<defs>
<linearGradient id="gpl" x1="0" y1="0" x2="0" y2="1"><stop offset="0" stop-color="#6be86b"/><stop offset="1" stop-color="#12a012"/></linearGradient>
<linearGradient id="ggold" x1="0" y1="0" x2="1" y2="1"><stop offset="0" stop-color="#f7d94c"/><stop offset="1" stop-color="#c88a10"/></linearGradient>
<linearGradient id="gred" x1="0" y1="0" x2="0" y2="1"><stop offset="0" stop-color="#e8603c"/><stop offset="1" stop-color="#d42210"/></linearGradient>
<linearGradient id="gblue" x1="0" y1="0" x2="0" y2="1"><stop offset="0" stop-color="#4a9df0"/><stop offset="1" stop-color="#1450b8"/></linearGradient>
<linearGradient id="gsig" x1="0" y1="0" x2="1" y2="1"><stop offset="0" stop-color="#3c6fe0"/><stop offset="1" stop-color="#3fae3f"/></linearGradient>
<g id="plus"><path d="M4 0.5h3.500v3.500h3.500v3.500h-3.500v3.500h-3.500v-3.500h-3.500v-3.500h3.500z" fill="url(#gpl)" stroke="#0b8a0b" stroke-width="0.900" stroke-linejoin="miter"/><path d="M4.700 1.300h2M1.300 4.800h2.800" stroke="#b8f8b8" stroke-width="0.700" fill="none"/></g>
<g id="axes" stroke="#585858" stroke-width="1.200" fill="none"><path d="M2.500 3.800V17M0 14.600H12.800"/><path d="M1 5L2.500 3L4 5M11.800 13.100L13.600 14.600L11.800 16.100" stroke-width="1.100"/></g>
<g id="dd"><path d="M0 0h6l-3 3.2z" fill="#000"/></g>
</defs>
<path d="M5 1.5h7l4 4v9h-11z" fill="#fff" stroke="#7a7a7a" stroke-width="1"/><path d="M12 1.5v4h4" fill="#e8e8e8" stroke="#7a7a7a" stroke-width="1"/><path d="M7 4.5h3M7 7.5h6M7 9.500h4" stroke="#9a9a9a" stroke-width="1"/>
<use href="#plus" x="8.200" y="7.400"/>
<text x="23" y="12" font-size="12" fill="#000" stroke="#000" stroke-width="0.200">新订单</text>
<linearGradient id="gbook" gradientUnits="userSpaceOnUse" x1="74" y1="5" x2="84" y2="14"><stop offset="0" stop-color="#e8b820"/><stop offset="0.45" stop-color="#f8e268"/><stop offset="1" stop-color="#d09810"/></linearGradient>
<path d="M76.600 2.200L86.500 9.600L86.900 11.200L79 16.600L71.100 10.700C73.500 9 75 7.500 75.400 6.100z" fill="url(#gbook)" stroke="#a8700e" stroke-width="0.900" stroke-linejoin="round"/>
<path d="M72 11.300L79 16L86.300 10.800" fill="none" stroke="#b07a14" stroke-width="1.300"/><path d="M80.500 14.300L86 10.400" stroke="#f0e8b0" stroke-width="0.800"/>
<path d="M101.200 2.200L108.600 1.400L111.900 3.600L111.900 9.800L104.300 9.800L101.200 9z" fill="#1c94f4"/><path d="M101.200 2.200L108.600 1.400L111.900 3.600L104.300 3.600z" fill="#2468d8"/><path d="M101.200 2.200L104.300 3.600V9.800L101.200 9z" fill="#28a8fc"/><path d="M104.300 3.600V9.800" stroke="#d0ecff" stroke-width="0.700"/><path d="M106.200 6.100h4.600" stroke="#e8f6ff" stroke-width="1.300"/>
<path d="M101.300 16.500C99 16.500 98.800 12.800 101.200 12.400C101.300 10.800 103.400 10.600 104.100 11.600C105 9.300 109.300 9 110.400 11.700C112 10.300 114.600 11.500 114.200 13.400C115.600 14.200 115 16.500 113.300 16.500z" fill="#eef2f8" stroke="#4868a8" stroke-width="0.900" stroke-linejoin="round"/><path d="M100.500 15.500h13.500" stroke="#b8c4dc" stroke-width="1.200"/>
<linearGradient id="gwedge" gradientUnits="userSpaceOnUse" x1="139" y1="16" x2="137" y2="2"><stop offset="0" stop-color="#2aa52a" stop-opacity="0.950"/><stop offset="0.600" stop-color="#8cc88c" stop-opacity="0.600"/><stop offset="1" stop-color="#c8dcc8" stop-opacity="0.300"/></linearGradient>
<path d="M135 8.800V16.500A7.700 7.700 0 0 0 138.800 2.100z" fill="url(#gwedge)"/>
<g fill="none" stroke="#4070dc"><circle cx="135" cy="8.800" r="4.600" stroke-width="1.200" opacity="0.550"/><circle cx="135" cy="8.800" r="7.500" stroke-width="1.100" opacity="0.450"/></g>
<path d="M135 16.500A7.700 7.700 0 0 0 141 4" fill="none" stroke="#2a8a3a" stroke-width="1.100" opacity="0.700"/>
<circle cx="135" cy="8.800" r="2" fill="#2a5cd8"/><path d="M135.400 9v7.600" stroke="#1fa01f" stroke-width="1.500"/>
<linearGradient id="gyel" x1="0" y1="0" x2="1" y2="1"><stop offset="0" stop-color="#f4d038"/><stop offset="0.500" stop-color="#fbe878"/><stop offset="1" stop-color="#ecb818"/></linearGradient>
<path d="M154.500 8L169.600 7.500L162.500 16.600z" fill="url(#gyel)" stroke="#c8981c" stroke-width="0.800" stroke-linejoin="round"/>
<ellipse cx="162" cy="5.600" rx="7.900" ry="2.600" fill="#4aa8d8" stroke="#2a88b8" stroke-width="0.700"/><ellipse cx="162" cy="3.500" rx="3.700" ry="2.500" fill="#7cc4ea"/>
<circle cx="166.400" cy="12.700" r="3.900" fill="#ea2c0a" stroke="#c01c08" stroke-width="0.800"/><rect x="165.100" y="11.300" width="2.700" height="2.700" fill="#fff"/>
<text x="175.500" y="12.300" font-size="12" fill="#000" stroke="#000" stroke-width="0.200">自动交易</text>
<rect x="230" y="0" width="1" height="21" fill="#a0a0a0" shape-rendering="crispEdges"/>
<rect x="231" y="0" width="1" height="20" fill="#ffffff" shape-rendering="crispEdges"/>
<rect x="234" y="3" width="3" height="1" fill="#b4b4b4" shape-rendering="crispEdges"/>
<rect x="234" y="5" width="3" height="1" fill="#b4b4b4" shape-rendering="crispEdges"/>
<rect x="234" y="7" width="3" height="1" fill="#b4b4b4" shape-rendering="crispEdges"/>
<rect x="234" y="9" width="3" height="1" fill="#b4b4b4" shape-rendering="crispEdges"/>
<rect x="234" y="11" width="3" height="1" fill="#b4b4b4" shape-rendering="crispEdges"/>
<rect x="234" y="13" width="3" height="1" fill="#b4b4b4" shape-rendering="crispEdges"/>
<rect x="234" y="15" width="3" height="1" fill="#b4b4b4" shape-rendering="crispEdges"/>
<rect x="234" y="17" width="3" height="1" fill="#b4b4b4" shape-rendering="crispEdges"/>
<use href="#axes" x="246" y="0"/><path d="M254.600 4.300v8.600M252 11.400h2.600M254.600 5.400h2.400" stroke="#008000" stroke-width="1.400" fill="none"/>
<rect x="268" y="0" width="1" height="19" fill="#a0a0a0" shape-rendering="crispEdges"/>
<rect x="269" y="0" width="24" height="19" fill="#f8f8f8" shape-rendering="crispEdges"/>
<use href="#axes" x="274" y="0"/><path d="M282.500 1v12" stroke="#008000" stroke-width="1.200"/><rect x="280.300" y="3.400" width="4.400" height="7.200" fill="#30e050" stroke="#008000" stroke-width="1"/>
<use href="#axes" x="302" y="0"/><path d="M303.200 11.800C306 9 308 6 309.500 6.400S312.500 9.500 314.600 10" stroke="#2a9a2a" stroke-width="1.200" fill="none"/>
<rect x="325" y="0" width="1" height="19" fill="#a0a0a0" shape-rendering="crispEdges"/>
<path d="M344 11L349.3 15.800" stroke="#c8a028" stroke-width="3.200" stroke-linecap="round"/><path d="M344.3 10.700L349.3 15.300" stroke="#f0d870" stroke-width="1"/>
<circle cx="340" cy="6.800" r="5.300" fill="#dceefa" stroke="#3a7fd5" stroke-width="1.300"/>
<path d="M337 6.800h6M340 3.800v6" stroke="#4a80b8" stroke-width="1.800"/>
<path d="M371.9 11L377.2 15.800" stroke="#c8a028" stroke-width="3.200" stroke-linecap="round"/><path d="M372.2 10.700L377.2 15.300" stroke="#f0d870" stroke-width="1"/>
<circle cx="367.9" cy="6.800" r="5.300" fill="#dceefa" stroke="#3a7fd5" stroke-width="1.300"/>
<path d="M364.9 6.800h6" stroke="#4a80b8" stroke-width="1.800"/>
<rect x="390" y="1" width="7.900" height="7.800" fill="#3a9a20"/><rect x="391" y="3.7" width="5.900" height="4.300" fill="#fff"/><rect x="392" y="5.2" width="3.900" height="0.900" fill="#3a9a20" opacity="0.450"/><rect x="391" y="1.9" width="1" height="1" fill="#fff" opacity="0.800"/>
<rect x="398.3" y="1" width="7.900" height="7.800" fill="#2458cc"/><rect x="399.3" y="3.7" width="5.900" height="4.300" fill="#fff"/><rect x="400.3" y="5.2" width="3.900" height="0.900" fill="#2458cc" opacity="0.450"/><rect x="399.3" y="1.9" width="1" height="1" fill="#fff" opacity="0.800"/>
<rect x="390" y="9.2" width="7.900" height="7.800" fill="#2458cc"/><rect x="391" y="11.899999999999999" width="5.900" height="4.300" fill="#fff"/><rect x="392" y="13.399999999999999" width="3.900" height="0.900" fill="#2458cc" opacity="0.450"/><rect x="391" y="10.1" width="1" height="1" fill="#fff" opacity="0.800"/>
<rect x="398.3" y="9.2" width="7.900" height="7.800" fill="#3a9a20"/><rect x="399.3" y="11.899999999999999" width="5.900" height="4.300" fill="#fff"/><rect x="400.3" y="13.399999999999999" width="3.900" height="0.900" fill="#3a9a20" opacity="0.450"/><rect x="399.3" y="10.1" width="1" height="1" fill="#fff" opacity="0.800"/>
<rect x="415" y="0" width="1" height="19" fill="#a0a0a0" shape-rendering="crispEdges"/>
<rect x="420" y="0" width="1" height="19" fill="#a0a0a0" shape-rendering="crispEdges"/>
<rect x="421" y="0" width="24" height="19" fill="#f8f8f8" shape-rendering="crispEdges"/>
<use href="#axes" x="426" y="0"/><path d="M433.400 5.200L437 8.500L433.400 11.800z" fill="#40d040" stroke="#0a8a0a" stroke-width="0.9"/>
<rect x="448" y="0" width="1" height="19" fill="#a0a0a0" shape-rendering="crispEdges"/>
<rect x="449" y="0" width="24" height="19" fill="#f8f8f8" shape-rendering="crispEdges"/>
<use href="#axes" x="454.200" y="0"/><path d="M462.500 3.200v9.800" stroke="#1878b8" stroke-width="1.300"/><path d="M463.500 8.600L466.500 6.400L466 8.600L466.500 10.800zM466 8.600h2" fill="#e05010" stroke="#e05010" stroke-width="0.800"/>
<rect x="477" y="0" width="1" height="19" fill="#a0a0a0" shape-rendering="crispEdges"/>
<path d="M487.500 1.500h7l4 4v9h-11z" fill="#fff" stroke="#8a8a8a" stroke-width="1"/><path d="M494.500 1.500v4h4" fill="#e8e8e8" stroke="#8a8a8a" stroke-width="1"/><text x="489.500" y="11.500" font-size="10" font-style="italic" fill="#444" font-family="'Liberation Serif',serif">f</text>
<use href="#plus" x="491.300" y="7.400"/>
<use href="#dd" x="508.800" y="8"/>
<circle cx="533" cy="8.900" r="6.600" fill="#fff" stroke="url(#gblue)" stroke-width="2.800"/><path d="M533 8.900V4.800M533 8.900h3" stroke="#333" stroke-width="1.100" fill="none"/>
<use href="#dd" x="547.800" y="8"/>
<rect x="564.800" y="2.500" width="15" height="13" fill="#fff" stroke="#3a7bd0" stroke-width="1.200"/><rect x="564.800" y="2.500" width="15" height="2.300" fill="#4a8ce0"/><path d="M565 10h14.500" stroke="#3a7bd0" stroke-width="1"/><path d="M566.500 8.300l2.500-0.300l2-1.500l2 1l2.500-0.300l2-1" stroke="#a02010" stroke-width="1.200" fill="none"/><path d="M567 13.600l2.500-0.800l2 0.500l2.500-2l2 1l1.500 1.300" stroke="#2a9a2a" stroke-width="1.200" fill="none"/>
<use href="#dd" x="586.600" y="8"/>
<rect x="598" y="0" width="1" height="21" fill="#a0a0a0" shape-rendering="crispEdges"/>
<rect x="599" y="0" width="1" height="20" fill="#ffffff" shape-rendering="crispEdges"/>
<rect x="602" y="3" width="3" height="1" fill="#b4b4b4" shape-rendering="crispEdges"/>
<rect x="602" y="5" width="3" height="1" fill="#b4b4b4" shape-rendering="crispEdges"/>
<rect x="602" y="7" width="3" height="1" fill="#b4b4b4" shape-rendering="crispEdges"/>
<rect x="602" y="9" width="3" height="1" fill="#b4b4b4" shape-rendering="crispEdges"/>
<rect x="602" y="11" width="3" height="1" fill="#b4b4b4" shape-rendering="crispEdges"/>
<rect x="602" y="13" width="3" height="1" fill="#b4b4b4" shape-rendering="crispEdges"/>
<rect x="602" y="15" width="3" height="1" fill="#b4b4b4" shape-rendering="crispEdges"/>
<rect x="602" y="17" width="3" height="1" fill="#b4b4b4" shape-rendering="crispEdges"/>
<rect x="608" y="0" width="1" height="19" fill="#a0a0a0" shape-rendering="crispEdges"/>
<rect x="609" y="0" width="24" height="19" fill="#f8f8f8" shape-rendering="crispEdges"/>
<path d="M615.700 2.200v11.300l2.600-2.400l2 4.600l1.900-0.800l-2-4.500l3.700-0.200z" fill="#3c3c3c"/>
<path d="M648.500 1.800v15.200M641 9.500h15" stroke="#555" stroke-width="1.100" shape-rendering="crispEdges"/><rect x="648" y="9" width="1" height="1" fill="#f0f0f0"/>
<rect x="665" y="0" width="1" height="19" fill="#a0a0a0" shape-rendering="crispEdges"/>
<path d="M682.500 3.600v12" stroke="#555" stroke-width="1.200" shape-rendering="crispEdges"/>
<path d="M705 9.500h12.200" stroke="#555" stroke-width="1.200" shape-rendering="crispEdges"/>
<path d="M733 15.800L745 4" stroke="#555" stroke-width="1.200"/>
<g stroke="#484848" stroke-width="1.250" fill="none"><path d="M759 10.500L771 2.800M760.500 13.300L772.300 5.800M762 16L773.200 8.800"/><path d="M763.500 5.500L765 15.500M767 3.500L768.500 13M770.500 1.500L771.500 10.500" stroke-width="1"/></g>
<text x="770" y="18" font-size="6.500" font-weight="bold" fill="#333">E</text>
<path d="M788 2.5h13" stroke="#555" stroke-width="1" stroke-dasharray="1 1"/>
<path d="M788 5.5h13" stroke="#555" stroke-width="1" stroke-dasharray="1 1"/>
<path d="M788 9.5h13" stroke="#555" stroke-width="1" stroke-dasharray="1 1"/>
<path d="M788 13.5h9.5" stroke="#555" stroke-width="1" stroke-dasharray="1 1"/>
<text x="797.800" y="18" font-size="6.500" font-weight="bold" fill="#333">F</text>
<text x="819" y="13.900" font-size="12" fill="#4a4a4a" stroke="#4a4a4a" stroke-width="0.300" textLength="7.400" lengthAdjust="spacingAndGlyphs">A</text>
<rect x="845.300" y="3.300" width="11" height="12" fill="none" stroke="#555" stroke-width="1" stroke-dasharray="1 1"/><rect x="844.300" y="2.300" width="2" height="2" fill="#555"/><text x="850.900" y="13.400" font-size="10.500" font-weight="bold" fill="#4a4a4a" text-anchor="middle">T</text>
<path d="M875.700 2.200l3 3l-3 3l-3-3zM883 10l3 3l-3 3l-3-3z" fill="#4a4a4a"/><path d="M874.500 9.500l2.200 2.300l4.500-5.600" stroke="#4a4a4a" stroke-width="1.300" fill="none"/>
<use href="#dd" x="892.600" y="8"/>
<rect x="904" y="0" width="1" height="21" fill="#a0a0a0" shape-rendering="crispEdges"/>
<rect x="905" y="0" width="1" height="20" fill="#ffffff" shape-rendering="crispEdges"/>
<rect x="908" y="3" width="3" height="1" fill="#b4b4b4" shape-rendering="crispEdges"/>
<rect x="908" y="5" width="3" height="1" fill="#b4b4b4" shape-rendering="crispEdges"/>
<rect x="908" y="7" width="3" height="1" fill="#b4b4b4" shape-rendering="crispEdges"/>
<rect x="908" y="9" width="3" height="1" fill="#b4b4b4" shape-rendering="crispEdges"/>
<rect x="908" y="11" width="3" height="1" fill="#b4b4b4" shape-rendering="crispEdges"/>
<rect x="908" y="13" width="3" height="1" fill="#b4b4b4" shape-rendering="crispEdges"/>
<rect x="908" y="15" width="3" height="1" fill="#b4b4b4" shape-rendering="crispEdges"/>
<rect x="908" y="17" width="3" height="1" fill="#b4b4b4" shape-rendering="crispEdges"/>
<text x="919.9" y="13" font-size="10.200" fill="#3c3c3c" stroke="#3c3c3c" stroke-width="0.200" textLength="12.3" lengthAdjust="spacingAndGlyphs">M1</text>
<text x="948.0" y="13" font-size="10.200" fill="#3c3c3c" stroke="#3c3c3c" stroke-width="0.200" textLength="12.4" lengthAdjust="spacingAndGlyphs">M5</text>
<text x="973.6" y="13" font-size="10.200" fill="#3c3c3c" stroke="#3c3c3c" stroke-width="0.200" textLength="17.8" lengthAdjust="spacingAndGlyphs">M15</text>
<text x="1001.7" y="13" font-size="10.200" fill="#3c3c3c" stroke="#3c3c3c" stroke-width="0.200" textLength="17.6" lengthAdjust="spacingAndGlyphs">M30</text>
<text x="1032.8" y="13" font-size="10.200" fill="#3c3c3c" stroke="#3c3c3c" stroke-width="0.200" textLength="11.4" lengthAdjust="spacingAndGlyphs">H1</text>
<rect x="1054" y="0" width="1" height="19" fill="#a0a0a0" shape-rendering="crispEdges"/>
<rect x="1055" y="0" width="24" height="19" fill="#f8f8f8" shape-rendering="crispEdges"/>
<text x="1059.7" y="13" font-size="10.200" fill="#3c3c3c" stroke="#3c3c3c" stroke-width="0.200" textLength="12" lengthAdjust="spacingAndGlyphs">H4</text>
<text x="1088.6" y="13" font-size="10.200" fill="#3c3c3c" stroke="#3c3c3c" stroke-width="0.200" textLength="11.7" lengthAdjust="spacingAndGlyphs">D1</text>
<text x="1116.0" y="13" font-size="10.200" fill="#3c3c3c" stroke="#3c3c3c" stroke-width="0.200" textLength="14.3" lengthAdjust="spacingAndGlyphs">W1</text>
<text x="1142.6" y="13" font-size="10.200" fill="#3c3c3c" stroke="#3c3c3c" stroke-width="0.200" textLength="14.8" lengthAdjust="spacingAndGlyphs">MN</text>
<rect x="1165" y="0" width="1" height="21" fill="#a0a0a0" shape-rendering="crispEdges"/>
<rect x="1166" y="0" width="1" height="20" fill="#ffffff" shape-rendering="crispEdges"/>
<path d="M1632.600 9.700L1628 14" stroke="#2450c8" stroke-width="2.600" stroke-linecap="round"/><circle cx="1635.800" cy="6.400" r="3.900" fill="#f4f4f8" stroke="#2f62dc" stroke-width="1.300"/>
<path d="M1652.300 11.200a5 4.300 0 1 1 5.500 4.300l-2.300 2.300l0.200-2.400a5 4.300 0 0 1-3.400-4.200z" fill="#e4e4ec" stroke="#b0b0b8" stroke-width="0.800"/>
<circle cx="1666.700" cy="6.700" r="8.100" fill="url(#gred)"/><text transform="translate(1666.800,11.200) scale(2)" font-size="6.200" fill="#fff" stroke="#fff" stroke-width="0.100" text-anchor="middle">1</text>
</svg>
</body></html>
